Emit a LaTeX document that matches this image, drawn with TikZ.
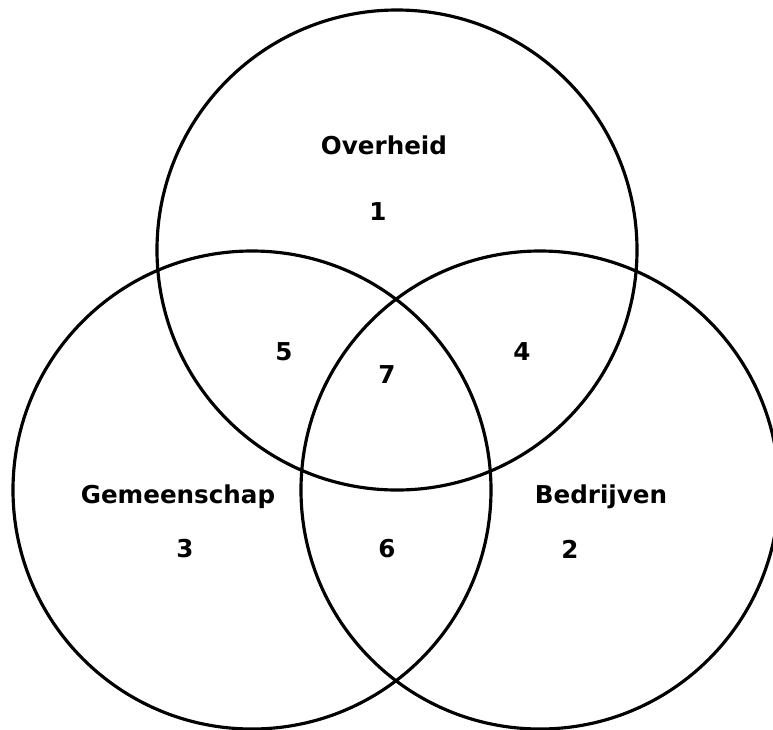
\documentclass[tikz,border=0pt]{standalone}
\usepackage{fontspec}
\setmainfont{DejaVu Sans}
\usepackage{tikz}
\usetikzlibrary{positioning}

\tikzset{
  setlabel/.style={font=\bfseries\fontsize{7}{8}\selectfont, inner sep=0pt},
  ring/.style={line width=0.9pt}
}

\begin{document}
\begin{tikzpicture}
      \useasboundingbox (0,0) rectangle (7.73,7.29);

      % three overlapping sets
      \draw[ring] (3.97,4.79) circle (2.40);
      \draw[ring] (2.52,2.39) circle (2.39);
      \draw[ring] (5.40,2.39) circle (2.39);

      % set names
      \node[setlabel] (overheid) at (3.84,5.84) {Overheid};
      \node[setlabel] (gemeenschap) at (1.78,2.32) {Gemeenschap};
      \node[setlabel] (bedrijven) at (6.01,2.32) {Bedrijven};

      % region numbers
      \node[setlabel] (r1) at (3.78,5.17) {1};
      \node[setlabel] (r2) at (5.70,1.80) {2};
      \node[setlabel] (r3) at (1.85,1.80) {3};
      \node[setlabel] (r4) at (5.22,3.77) {4};
      \node[setlabel] (r5) at (2.84,3.77) {5};
      \node[setlabel] (r6) at (3.87,1.80) {6};
      \node[setlabel] (r7) at (3.87,3.54) {7};

    \end{tikzpicture}
\end{document}
